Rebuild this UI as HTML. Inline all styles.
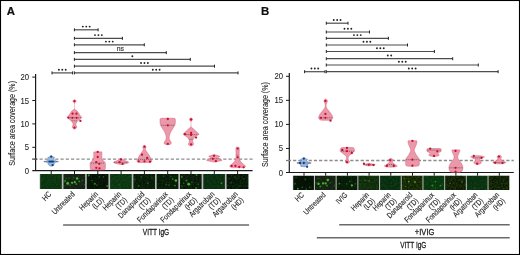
<!DOCTYPE html><html><head><meta charset="utf-8"><title>Figure</title><style>html,body{margin:0;padding:0;background:#fff;width:520px;height:255px;overflow:hidden;}svg{will-change:transform;}text{font-family:"Liberation Sans", sans-serif;}</style></head><body><svg width="520" height="255" viewBox="0 0 520 255" style='display:block;font-family:"Liberation Sans", sans-serif'><defs><filter id="bl" x="-20%" y="-20%" width="140%" height="140%"><feGaussianBlur stdDeviation="0.75"/></filter><filter id="texG" x="0" y="0" width="100%" height="100%" color-interpolation-filters="sRGB"><feTurbulence type="fractalNoise" baseFrequency="0.55" numOctaves="2" seed="4"/><feColorMatrix type="matrix" values="0 0 0 0 0.12  0 0 0 0 0.55  0 0 0 0 0.12  2.2 0 0 0 -0.75"/></filter><filter id="texY" x="0" y="0" width="100%" height="100%" color-interpolation-filters="sRGB"><feTurbulence type="fractalNoise" baseFrequency="0.6" numOctaves="2" seed="9"/><feColorMatrix type="matrix" values="0 0 0 0 0.35  0 0 0 0 0.6  0 0 0 0 0.08  2.2 0 0 0 -0.75"/></filter></defs><rect x="0" y="0" width="520" height="255" fill="#fff"/><text x="6.8" y="14.9" font-size="11.4" font-weight="bold" fill="#111" stroke="#111" stroke-width="0.2">A</text>
<line x1="35.60" y1="74.00" x2="35.60" y2="170.70" stroke="#1a1a1a" stroke-width="1.2" />
<line x1="32.30" y1="170.70" x2="252.60" y2="170.70" stroke="#1a1a1a" stroke-width="1.2" />
<line x1="32.30" y1="147.30" x2="35.60" y2="147.30" stroke="#1a1a1a" stroke-width="1.0" />
<line x1="32.30" y1="123.90" x2="35.60" y2="123.90" stroke="#1a1a1a" stroke-width="1.0" />
<line x1="32.30" y1="100.50" x2="35.60" y2="100.50" stroke="#1a1a1a" stroke-width="1.0" />
<line x1="32.30" y1="77.10" x2="35.60" y2="77.10" stroke="#1a1a1a" stroke-width="1.0" />
<text x="29.00" y="173.70" font-size="8.4" text-anchor="end" fill="#222" font-weight="normal" textLength="4.30" lengthAdjust="spacingAndGlyphs" stroke="#222" stroke-width="0.08" >0</text>
<text x="29.00" y="150.30" font-size="8.4" text-anchor="end" fill="#222" font-weight="normal" textLength="4.30" lengthAdjust="spacingAndGlyphs" stroke="#222" stroke-width="0.08" >5</text>
<text x="29.00" y="126.90" font-size="8.4" text-anchor="end" fill="#222" font-weight="normal" textLength="8.60" lengthAdjust="spacingAndGlyphs" stroke="#222" stroke-width="0.08" >10</text>
<text x="29.00" y="103.50" font-size="8.4" text-anchor="end" fill="#222" font-weight="normal" textLength="8.60" lengthAdjust="spacingAndGlyphs" stroke="#222" stroke-width="0.08" >15</text>
<text x="29.00" y="80.10" font-size="8.4" text-anchor="end" fill="#222" font-weight="normal" textLength="8.60" lengthAdjust="spacingAndGlyphs" stroke="#222" stroke-width="0.08" >20</text>
<text transform="translate(14.5,123.4) rotate(-90)" x="0" y="0" font-size="9.6" text-anchor="middle" fill="#222" stroke="#222" stroke-width="0.1" textLength="84.8" lengthAdjust="spacingAndGlyphs">Surface area coverage (%)</text>
<line x1="34.25" y1="159.10" x2="252.60" y2="159.10" stroke="#8c8c8c" stroke-width="1.3" stroke-dasharray="3.2 2.05"/>
<line x1="32.10" y1="159.10" x2="37.20" y2="159.10" stroke="#333" stroke-width="1.1" />
<text x="260.9" y="14.9" font-size="11.4" font-weight="bold" fill="#111" stroke="#111" stroke-width="0.2">B</text>
<line x1="289.30" y1="73.00" x2="289.30" y2="172.50" stroke="#1a1a1a" stroke-width="1.2" />
<line x1="286.00" y1="172.50" x2="513.80" y2="172.50" stroke="#1a1a1a" stroke-width="1.2" />
<line x1="286.00" y1="148.45" x2="289.30" y2="148.45" stroke="#1a1a1a" stroke-width="1.0" />
<line x1="286.00" y1="124.40" x2="289.30" y2="124.40" stroke="#1a1a1a" stroke-width="1.0" />
<line x1="286.00" y1="100.35" x2="289.30" y2="100.35" stroke="#1a1a1a" stroke-width="1.0" />
<line x1="286.00" y1="76.30" x2="289.30" y2="76.30" stroke="#1a1a1a" stroke-width="1.0" />
<text x="283.00" y="175.50" font-size="8.4" text-anchor="end" fill="#222" font-weight="normal" textLength="4.30" lengthAdjust="spacingAndGlyphs" stroke="#222" stroke-width="0.08" >0</text>
<text x="283.00" y="151.45" font-size="8.4" text-anchor="end" fill="#222" font-weight="normal" textLength="4.30" lengthAdjust="spacingAndGlyphs" stroke="#222" stroke-width="0.08" >5</text>
<text x="283.00" y="127.40" font-size="8.4" text-anchor="end" fill="#222" font-weight="normal" textLength="8.60" lengthAdjust="spacingAndGlyphs" stroke="#222" stroke-width="0.08" >10</text>
<text x="283.00" y="103.35" font-size="8.4" text-anchor="end" fill="#222" font-weight="normal" textLength="8.60" lengthAdjust="spacingAndGlyphs" stroke="#222" stroke-width="0.08" >15</text>
<text x="283.00" y="79.30" font-size="8.4" text-anchor="end" fill="#222" font-weight="normal" textLength="8.60" lengthAdjust="spacingAndGlyphs" stroke="#222" stroke-width="0.08" >20</text>
<text transform="translate(268.0,124.5) rotate(-90)" x="0" y="0" font-size="9.6" text-anchor="middle" fill="#222" stroke="#222" stroke-width="0.1" textLength="84.8" lengthAdjust="spacingAndGlyphs">Surface area coverage (%)</text>
<line x1="286.00" y1="160.50" x2="289.30" y2="160.50" stroke="#777" stroke-width="1.2" />
<line x1="287.85" y1="160.50" x2="513.80" y2="160.50" stroke="#8c8c8c" stroke-width="1.3" stroke-dasharray="3.2 2"/>
<line x1="74.40" y1="29.80" x2="98.10" y2="29.80" stroke="#4d4d4d" stroke-width="1.2" />
<line x1="74.40" y1="28.30" x2="74.40" y2="31.30" stroke="#222" stroke-width="1.0" />
<line x1="98.10" y1="28.30" x2="98.10" y2="31.30" stroke="#222" stroke-width="1.0" />
<circle cx="82.85" cy="26.60" r="0.95" fill="#222"/>
<circle cx="86.25" cy="26.60" r="0.95" fill="#222"/>
<circle cx="89.65" cy="26.60" r="0.95" fill="#222"/>
<line x1="74.40" y1="38.30" x2="122.40" y2="38.30" stroke="#4d4d4d" stroke-width="1.2" />
<line x1="74.40" y1="36.80" x2="74.40" y2="39.80" stroke="#222" stroke-width="1.0" />
<line x1="122.40" y1="36.80" x2="122.40" y2="39.80" stroke="#222" stroke-width="1.0" />
<circle cx="95.00" cy="35.10" r="0.95" fill="#222"/>
<circle cx="98.40" cy="35.10" r="0.95" fill="#222"/>
<circle cx="101.80" cy="35.10" r="0.95" fill="#222"/>
<line x1="74.40" y1="44.80" x2="144.30" y2="44.80" stroke="#4d4d4d" stroke-width="1.2" />
<line x1="74.40" y1="43.30" x2="74.40" y2="46.30" stroke="#222" stroke-width="1.0" />
<line x1="144.30" y1="43.30" x2="144.30" y2="46.30" stroke="#222" stroke-width="1.0" />
<circle cx="105.95" cy="41.60" r="0.95" fill="#222"/>
<circle cx="109.35" cy="41.60" r="0.95" fill="#222"/>
<circle cx="112.75" cy="41.60" r="0.95" fill="#222"/>
<line x1="74.40" y1="52.60" x2="166.30" y2="52.60" stroke="#4d4d4d" stroke-width="1.2" />
<line x1="74.40" y1="51.10" x2="74.40" y2="54.10" stroke="#222" stroke-width="1.0" />
<line x1="166.30" y1="51.10" x2="166.30" y2="54.10" stroke="#222" stroke-width="1.0" />
<text x="120.35" y="50.80" font-size="7.7" text-anchor="middle" fill="#333" font-weight="normal" textLength="7.20" lengthAdjust="spacingAndGlyphs" stroke="#333" stroke-width="0.18" >ns</text>
<line x1="74.40" y1="59.40" x2="190.30" y2="59.40" stroke="#4d4d4d" stroke-width="1.2" />
<line x1="74.40" y1="57.90" x2="74.40" y2="60.90" stroke="#222" stroke-width="1.0" />
<line x1="190.30" y1="57.90" x2="190.30" y2="60.90" stroke="#222" stroke-width="1.0" />
<circle cx="132.35" cy="56.20" r="0.95" fill="#222"/>
<line x1="74.40" y1="66.20" x2="214.50" y2="66.20" stroke="#4d4d4d" stroke-width="1.2" />
<line x1="74.40" y1="64.70" x2="74.40" y2="67.70" stroke="#222" stroke-width="1.0" />
<line x1="214.50" y1="64.70" x2="214.50" y2="67.70" stroke="#222" stroke-width="1.0" />
<circle cx="141.05" cy="63.00" r="0.95" fill="#222"/>
<circle cx="144.45" cy="63.00" r="0.95" fill="#222"/>
<circle cx="147.85" cy="63.00" r="0.95" fill="#222"/>
<line x1="74.40" y1="72.90" x2="238.00" y2="72.90" stroke="#4d4d4d" stroke-width="1.2" />
<line x1="74.40" y1="71.40" x2="74.40" y2="74.40" stroke="#222" stroke-width="1.0" />
<line x1="238.00" y1="71.40" x2="238.00" y2="74.40" stroke="#222" stroke-width="1.0" />
<circle cx="152.80" cy="69.70" r="0.95" fill="#222"/>
<circle cx="156.20" cy="69.70" r="0.95" fill="#222"/>
<circle cx="159.60" cy="69.70" r="0.95" fill="#222"/>
<line x1="52.00" y1="72.90" x2="72.60" y2="72.90" stroke="#4d4d4d" stroke-width="1.2" />
<line x1="52.00" y1="71.40" x2="52.00" y2="74.40" stroke="#222" stroke-width="1.0" />
<line x1="72.60" y1="71.40" x2="72.60" y2="74.40" stroke="#222" stroke-width="1.0" />
<circle cx="58.90" cy="69.70" r="0.95" fill="#222"/>
<circle cx="62.30" cy="69.70" r="0.95" fill="#222"/>
<circle cx="65.70" cy="69.70" r="0.95" fill="#222"/>
<line x1="326.30" y1="23.20" x2="348.00" y2="23.20" stroke="#4d4d4d" stroke-width="1.2" />
<line x1="326.30" y1="21.70" x2="326.30" y2="24.70" stroke="#222" stroke-width="1.0" />
<line x1="348.00" y1="21.70" x2="348.00" y2="24.70" stroke="#222" stroke-width="1.0" />
<circle cx="333.75" cy="20.00" r="0.95" fill="#222"/>
<circle cx="337.15" cy="20.00" r="0.95" fill="#222"/>
<circle cx="340.55" cy="20.00" r="0.95" fill="#222"/>
<line x1="326.30" y1="32.00" x2="369.50" y2="32.00" stroke="#4d4d4d" stroke-width="1.2" />
<line x1="326.30" y1="30.50" x2="326.30" y2="33.50" stroke="#222" stroke-width="1.0" />
<line x1="369.50" y1="30.50" x2="369.50" y2="33.50" stroke="#222" stroke-width="1.0" />
<circle cx="344.50" cy="28.80" r="0.95" fill="#222"/>
<circle cx="347.90" cy="28.80" r="0.95" fill="#222"/>
<circle cx="351.30" cy="28.80" r="0.95" fill="#222"/>
<line x1="326.30" y1="38.30" x2="388.40" y2="38.30" stroke="#4d4d4d" stroke-width="1.2" />
<line x1="326.30" y1="36.80" x2="326.30" y2="39.80" stroke="#222" stroke-width="1.0" />
<line x1="388.40" y1="36.80" x2="388.40" y2="39.80" stroke="#222" stroke-width="1.0" />
<circle cx="353.95" cy="35.10" r="0.95" fill="#222"/>
<circle cx="357.35" cy="35.10" r="0.95" fill="#222"/>
<circle cx="360.75" cy="35.10" r="0.95" fill="#222"/>
<line x1="326.30" y1="45.00" x2="407.50" y2="45.00" stroke="#4d4d4d" stroke-width="1.2" />
<line x1="326.30" y1="43.50" x2="326.30" y2="46.50" stroke="#222" stroke-width="1.0" />
<line x1="407.50" y1="43.50" x2="407.50" y2="46.50" stroke="#222" stroke-width="1.0" />
<circle cx="363.50" cy="41.80" r="0.95" fill="#222"/>
<circle cx="366.90" cy="41.80" r="0.95" fill="#222"/>
<circle cx="370.30" cy="41.80" r="0.95" fill="#222"/>
<line x1="326.30" y1="51.50" x2="434.40" y2="51.50" stroke="#4d4d4d" stroke-width="1.2" />
<line x1="326.30" y1="50.00" x2="326.30" y2="53.00" stroke="#222" stroke-width="1.0" />
<line x1="434.40" y1="50.00" x2="434.40" y2="53.00" stroke="#222" stroke-width="1.0" />
<circle cx="376.95" cy="48.30" r="0.95" fill="#222"/>
<circle cx="380.35" cy="48.30" r="0.95" fill="#222"/>
<circle cx="383.75" cy="48.30" r="0.95" fill="#222"/>
<line x1="326.30" y1="58.70" x2="452.70" y2="58.70" stroke="#4d4d4d" stroke-width="1.2" />
<line x1="326.30" y1="57.20" x2="326.30" y2="60.20" stroke="#222" stroke-width="1.0" />
<line x1="452.70" y1="57.20" x2="452.70" y2="60.20" stroke="#222" stroke-width="1.0" />
<circle cx="387.80" cy="55.50" r="0.95" fill="#222"/>
<circle cx="391.20" cy="55.50" r="0.95" fill="#222"/>
<line x1="326.30" y1="65.00" x2="478.30" y2="65.00" stroke="#4d4d4d" stroke-width="1.2" />
<line x1="326.30" y1="63.50" x2="326.30" y2="66.50" stroke="#222" stroke-width="1.0" />
<line x1="478.30" y1="63.50" x2="478.30" y2="66.50" stroke="#222" stroke-width="1.0" />
<circle cx="398.90" cy="61.80" r="0.95" fill="#222"/>
<circle cx="402.30" cy="61.80" r="0.95" fill="#222"/>
<circle cx="405.70" cy="61.80" r="0.95" fill="#222"/>
<line x1="326.30" y1="71.70" x2="498.10" y2="71.70" stroke="#4d4d4d" stroke-width="1.2" />
<line x1="326.30" y1="70.20" x2="326.30" y2="73.20" stroke="#222" stroke-width="1.0" />
<line x1="498.10" y1="70.20" x2="498.10" y2="73.20" stroke="#222" stroke-width="1.0" />
<circle cx="408.80" cy="68.50" r="0.95" fill="#222"/>
<circle cx="412.20" cy="68.50" r="0.95" fill="#222"/>
<circle cx="415.60" cy="68.50" r="0.95" fill="#222"/>
<line x1="304.60" y1="71.70" x2="325.00" y2="71.70" stroke="#4d4d4d" stroke-width="1.2" />
<line x1="304.60" y1="70.20" x2="304.60" y2="73.20" stroke="#222" stroke-width="1.0" />
<line x1="325.00" y1="70.20" x2="325.00" y2="73.20" stroke="#222" stroke-width="1.0" />
<circle cx="311.40" cy="68.50" r="0.95" fill="#222"/>
<circle cx="314.80" cy="68.50" r="0.95" fill="#222"/>
<circle cx="318.20" cy="68.50" r="0.95" fill="#222"/>
<path d="M51.20,155.80 C51.37,155.90 51.80,156.18 52.20,156.40 C52.60,156.62 53.18,156.88 53.60,157.10 C54.02,157.32 54.67,157.48 54.70,157.70 C54.73,157.92 53.92,158.12 53.80,158.40 C53.68,158.68 53.80,159.07 54.00,159.40 C54.20,159.73 54.57,160.12 55.00,160.40 C55.43,160.68 56.00,160.90 56.60,161.10 C57.20,161.30 58.60,161.43 58.60,161.60 C58.60,161.77 57.23,161.90 56.60,162.10 C55.97,162.30 55.20,162.48 54.80,162.80 C54.40,163.12 54.37,163.63 54.20,164.00 C54.03,164.37 54.07,164.70 53.80,165.00 C53.53,165.30 53.03,165.58 52.60,165.80 C52.17,166.02 51.67,166.30 51.20,166.30 C50.73,166.30 50.23,166.02 49.80,165.80 C49.37,165.58 48.87,165.30 48.60,165.00 C48.33,164.70 48.37,164.37 48.20,164.00 C48.03,163.63 48.00,163.12 47.60,162.80 C47.20,162.48 46.43,162.30 45.80,162.10 C45.17,161.90 43.80,161.77 43.80,161.60 C43.80,161.43 45.20,161.30 45.80,161.10 C46.40,160.90 46.97,160.68 47.40,160.40 C47.83,160.12 48.20,159.73 48.40,159.40 C48.60,159.07 48.72,158.68 48.60,158.40 C48.48,158.12 47.67,157.92 47.70,157.70 C47.73,157.48 48.38,157.32 48.80,157.10 C49.22,156.88 49.80,156.62 50.20,156.40 C50.60,156.18 51.03,155.90 51.20,155.80 C51.37,155.70 51.03,155.70 51.20,155.80Z" fill="#9ab8de" stroke="#3f6fae" stroke-width="0.45"/>
<line x1="44.30" y1="161.60" x2="58.10" y2="161.60" stroke="#555" stroke-width="0.7" stroke-dasharray="1.2 0.8"/>
<circle cx="51.20" cy="156.70" r="1.15" fill="#0c3f86"/>
<circle cx="49.50" cy="161.60" r="1.15" fill="#0c3f86"/>
<circle cx="51.20" cy="161.60" r="1.15" fill="#0c3f86"/>
<circle cx="52.90" cy="161.60" r="1.15" fill="#0c3f86"/>
<circle cx="52.60" cy="165.10" r="1.15" fill="#0c3f86"/>
<line x1="74.50" y1="102.50" x2="74.50" y2="110.00" stroke="#eb98aa" stroke-width="0.6" />
<path d="M74.50,99.70 C74.70,99.82 75.43,100.15 75.70,100.40 C75.97,100.65 76.13,100.90 76.10,101.20 C76.07,101.50 75.77,101.87 75.50,102.20 C75.23,102.53 74.83,103.20 74.50,103.20 C74.17,103.20 73.77,102.53 73.50,102.20 C73.23,101.87 72.93,101.50 72.90,101.20 C72.87,100.90 73.03,100.65 73.30,100.40 C73.57,100.15 74.30,99.82 74.50,99.70 C74.70,99.58 74.30,99.58 74.50,99.70Z" fill="#eb98aa" stroke="#d9506e" stroke-width="0.45"/>
<path d="M74.50,109.40 C74.80,109.53 75.73,109.77 76.30,110.20 C76.87,110.63 77.43,111.40 77.90,112.00 C78.37,112.60 78.70,113.18 79.10,113.80 C79.50,114.42 79.85,115.08 80.30,115.70 C80.75,116.32 81.83,116.95 81.80,117.50 C81.77,118.05 80.72,118.48 80.10,119.00 C79.48,119.52 78.67,120.07 78.10,120.60 C77.53,121.13 77.08,121.63 76.70,122.20 C76.32,122.77 75.88,123.43 75.80,124.00 C75.72,124.57 76.05,125.07 76.20,125.60 C76.35,126.13 76.75,126.73 76.70,127.20 C76.65,127.67 76.27,128.07 75.90,128.40 C75.53,128.73 74.97,129.20 74.50,129.20 C74.03,129.20 73.47,128.73 73.10,128.40 C72.73,128.07 72.35,127.67 72.30,127.20 C72.25,126.73 72.65,126.13 72.80,125.60 C72.95,125.07 73.28,124.57 73.20,124.00 C73.12,123.43 72.68,122.77 72.30,122.20 C71.92,121.63 71.47,121.13 70.90,120.60 C70.33,120.07 69.52,119.52 68.90,119.00 C68.28,118.48 67.23,118.05 67.20,117.50 C67.17,116.95 68.25,116.32 68.70,115.70 C69.15,115.08 69.50,114.42 69.90,113.80 C70.30,113.18 70.63,112.60 71.10,112.00 C71.57,111.40 72.13,110.63 72.70,110.20 C73.27,109.77 74.20,109.53 74.50,109.40 C74.80,109.27 74.20,109.27 74.50,109.40Z" fill="#eb98aa" stroke="#d9506e" stroke-width="0.45"/>
<line x1="68.04" y1="117.80" x2="80.96" y2="117.80" stroke="#555" stroke-width="0.7" stroke-dasharray="1.2 0.8"/>
<line x1="71.58" y1="120.80" x2="77.42" y2="120.80" stroke="#555" stroke-width="0.7" stroke-dasharray="1.2 0.8"/>
<circle cx="74.50" cy="101.10" r="1.15" fill="#c8102e"/>
<circle cx="72.60" cy="113.70" r="1.15" fill="#c8102e"/>
<circle cx="76.50" cy="113.70" r="1.15" fill="#c8102e"/>
<circle cx="68.40" cy="117.60" r="1.15" fill="#c8102e"/>
<circle cx="72.40" cy="117.80" r="1.15" fill="#c8102e"/>
<circle cx="76.60" cy="117.80" r="1.15" fill="#c8102e"/>
<circle cx="80.40" cy="120.90" r="1.15" fill="#c8102e"/>
<circle cx="74.50" cy="127.60" r="1.15" fill="#c8102e"/>
<path d="M100.80,151.90 C101.97,151.95 101.63,151.68 101.80,152.20 C101.97,152.72 101.77,153.90 101.80,155.00 C101.83,156.10 101.75,157.87 102.00,158.80 C102.25,159.73 102.87,160.07 103.30,160.60 C103.73,161.13 104.25,161.57 104.60,162.00 C104.95,162.43 105.27,162.37 105.40,163.20 C105.53,164.03 105.45,166.00 105.40,167.00 C105.35,168.00 105.45,168.72 105.10,169.20 C104.75,169.68 105.43,169.78 103.30,169.90 C101.17,170.02 94.43,170.02 92.30,169.90 C90.17,169.78 90.85,169.68 90.50,169.20 C90.15,168.72 90.25,168.00 90.20,167.00 C90.15,166.00 90.07,164.03 90.20,163.20 C90.33,162.37 90.65,162.43 91.00,162.00 C91.35,161.57 91.87,161.13 92.30,160.60 C92.73,160.07 93.35,159.73 93.60,158.80 C93.85,157.87 93.77,156.10 93.80,155.00 C93.83,153.90 93.63,152.72 93.80,152.20 C93.97,151.68 93.63,151.95 94.80,151.90 C95.97,151.85 99.63,151.85 100.80,151.90Z" fill="#eb98aa" stroke="#d9506e" stroke-width="0.45"/>
<line x1="90.77" y1="163.10" x2="104.83" y2="163.10" stroke="#555" stroke-width="0.7" stroke-dasharray="1.2 0.8"/>
<circle cx="97.70" cy="152.00" r="1.15" fill="#c8102e"/>
<circle cx="97.70" cy="157.00" r="1.15" fill="#c8102e"/>
<circle cx="96.30" cy="162.20" r="1.15" fill="#c8102e"/>
<circle cx="99.30" cy="163.80" r="1.15" fill="#c8102e"/>
<circle cx="96.30" cy="167.80" r="1.15" fill="#c8102e"/>
<circle cx="99.50" cy="168.30" r="1.15" fill="#c8102e"/>
<path d="M121.10,158.60 C121.35,158.72 122.10,159.02 122.60,159.30 C123.10,159.58 123.43,159.98 124.10,160.30 C124.77,160.62 125.90,160.95 126.60,161.20 C127.30,161.45 127.98,161.55 128.30,161.80 C128.62,162.05 128.78,162.43 128.50,162.70 C128.22,162.97 127.42,163.17 126.60,163.40 C125.78,163.63 124.52,163.92 123.60,164.10 C122.68,164.28 121.93,164.50 121.10,164.50 C120.27,164.50 119.52,164.28 118.60,164.10 C117.68,163.92 116.42,163.63 115.60,163.40 C114.78,163.17 113.98,162.97 113.70,162.70 C113.42,162.43 113.58,162.05 113.90,161.80 C114.22,161.55 114.90,161.45 115.60,161.20 C116.30,160.95 117.43,160.62 118.10,160.30 C118.77,159.98 119.10,159.58 119.60,159.30 C120.10,159.02 120.85,158.72 121.10,158.60 C121.35,158.48 120.85,158.48 121.10,158.60Z" fill="#eb98aa" stroke="#d9506e" stroke-width="0.45"/>
<line x1="114.27" y1="162.40" x2="127.93" y2="162.40" stroke="#555" stroke-width="0.7" stroke-dasharray="1.2 0.8"/>
<circle cx="121.00" cy="159.50" r="1.15" fill="#c8102e"/>
<circle cx="119.60" cy="162.20" r="1.15" fill="#c8102e"/>
<circle cx="122.60" cy="163.90" r="1.15" fill="#c8102e"/>
<path d="M144.40,145.50 C144.63,145.62 145.53,145.88 145.80,146.20 C146.07,146.52 146.07,146.97 146.00,147.40 C145.93,147.83 145.45,148.33 145.40,148.80 C145.35,149.27 145.43,149.63 145.70,150.20 C145.97,150.77 146.55,151.53 147.00,152.20 C147.45,152.87 147.93,153.48 148.40,154.20 C148.87,154.92 149.32,155.63 149.80,156.50 C150.28,157.37 150.98,158.55 151.30,159.40 C151.62,160.25 152.02,161.10 151.70,161.60 C151.38,162.10 151.45,162.27 149.40,162.40 C147.35,162.53 141.45,162.53 139.40,162.40 C137.35,162.27 137.42,162.10 137.10,161.60 C136.78,161.10 137.18,160.25 137.50,159.40 C137.82,158.55 138.52,157.37 139.00,156.50 C139.48,155.63 139.93,154.92 140.40,154.20 C140.87,153.48 141.35,152.87 141.80,152.20 C142.25,151.53 142.83,150.77 143.10,150.20 C143.37,149.63 143.45,149.27 143.40,148.80 C143.35,148.33 142.87,147.83 142.80,147.40 C142.73,146.97 142.73,146.52 143.00,146.20 C143.27,145.88 144.17,145.62 144.40,145.50 C144.63,145.38 144.17,145.38 144.40,145.50Z" fill="#eb98aa" stroke="#d9506e" stroke-width="0.45"/>
<line x1="138.00" y1="159.40" x2="150.80" y2="159.40" stroke="#555" stroke-width="0.7" stroke-dasharray="1.2 0.8"/>
<circle cx="144.50" cy="146.70" r="1.15" fill="#c8102e"/>
<circle cx="142.00" cy="154.70" r="1.15" fill="#c8102e"/>
<circle cx="147.20" cy="158.00" r="1.15" fill="#c8102e"/>
<circle cx="138.70" cy="161.30" r="1.15" fill="#c8102e"/>
<circle cx="144.50" cy="161.30" r="1.15" fill="#c8102e"/>
<circle cx="150.00" cy="161.70" r="1.15" fill="#c8102e"/>
<path d="M173.20,118.30 C175.35,118.38 174.73,118.43 175.10,118.80 C175.47,119.17 175.37,119.80 175.40,120.50 C175.43,121.20 175.38,122.25 175.30,123.00 C175.22,123.75 175.20,124.25 174.90,125.00 C174.60,125.75 174.00,126.67 173.50,127.50 C173.00,128.33 172.40,129.17 171.90,130.00 C171.40,130.83 170.88,131.67 170.50,132.50 C170.12,133.33 169.82,134.17 169.60,135.00 C169.38,135.83 169.22,136.75 169.20,137.50 C169.18,138.25 169.25,138.83 169.50,139.50 C169.75,140.17 170.40,140.92 170.70,141.50 C171.00,142.08 171.33,142.55 171.30,143.00 C171.27,143.45 171.10,143.92 170.50,144.20 C169.90,144.48 168.63,144.70 167.70,144.70 C166.77,144.70 165.50,144.48 164.90,144.20 C164.30,143.92 164.13,143.45 164.10,143.00 C164.07,142.55 164.40,142.08 164.70,141.50 C165.00,140.92 165.65,140.17 165.90,139.50 C166.15,138.83 166.22,138.25 166.20,137.50 C166.18,136.75 166.02,135.83 165.80,135.00 C165.58,134.17 165.28,133.33 164.90,132.50 C164.52,131.67 164.00,130.83 163.50,130.00 C163.00,129.17 162.40,128.33 161.90,127.50 C161.40,126.67 160.80,125.75 160.50,125.00 C160.20,124.25 160.18,123.75 160.10,123.00 C160.02,122.25 159.97,121.20 160.00,120.50 C160.03,119.80 159.93,119.17 160.30,118.80 C160.67,118.43 160.05,118.38 162.20,118.30 C164.35,118.22 171.05,118.22 173.20,118.30Z" fill="#eb98aa" stroke="#d9506e" stroke-width="0.45"/>
<line x1="161.17" y1="125.30" x2="174.23" y2="125.30" stroke="#555" stroke-width="0.7" stroke-dasharray="1.2 0.8"/>
<circle cx="167.80" cy="119.00" r="1.15" fill="#c8102e"/>
<circle cx="167.80" cy="125.30" r="1.15" fill="#c8102e"/>
<circle cx="167.80" cy="143.90" r="1.15" fill="#c8102e"/>
<line x1="191.00" y1="121.00" x2="191.00" y2="127.50" stroke="#eb98aa" stroke-width="0.6" />
<path d="M191.00,117.90 C191.20,118.02 191.93,118.33 192.20,118.60 C192.47,118.87 192.63,119.18 192.60,119.50 C192.57,119.82 192.27,120.17 192.00,120.50 C191.73,120.83 191.33,121.50 191.00,121.50 C190.67,121.50 190.27,120.83 190.00,120.50 C189.73,120.17 189.43,119.82 189.40,119.50 C189.37,119.18 189.53,118.87 189.80,118.60 C190.07,118.33 190.80,118.02 191.00,117.90 C191.20,117.78 190.80,117.78 191.00,117.90Z" fill="#eb98aa" stroke="#d9506e" stroke-width="0.45"/>
<path d="M191.00,127.00 C191.27,127.17 192.02,127.50 192.60,128.00 C193.18,128.50 193.77,129.30 194.50,130.00 C195.23,130.70 196.27,131.50 197.00,132.20 C197.73,132.90 198.90,133.63 198.90,134.20 C198.90,134.77 197.72,135.05 197.00,135.60 C196.28,136.15 195.23,136.88 194.60,137.50 C193.97,138.12 193.53,138.72 193.20,139.30 C192.87,139.88 192.63,140.45 192.60,141.00 C192.57,141.55 192.83,142.13 193.00,142.60 C193.17,143.07 193.57,143.40 193.60,143.80 C193.63,144.20 193.63,144.63 193.20,145.00 C192.77,145.37 191.73,146.00 191.00,146.00 C190.27,146.00 189.23,145.37 188.80,145.00 C188.37,144.63 188.37,144.20 188.40,143.80 C188.43,143.40 188.83,143.07 189.00,142.60 C189.17,142.13 189.43,141.55 189.40,141.00 C189.37,140.45 189.13,139.88 188.80,139.30 C188.47,138.72 188.03,138.12 187.40,137.50 C186.77,136.88 185.72,136.15 185.00,135.60 C184.28,135.05 183.10,134.77 183.10,134.20 C183.10,133.63 184.27,132.90 185.00,132.20 C185.73,131.50 186.77,130.70 187.50,130.00 C188.23,129.30 188.82,128.50 189.40,128.00 C189.98,127.50 190.73,127.17 191.00,127.00 C191.27,126.83 190.73,126.83 191.00,127.00Z" fill="#eb98aa" stroke="#d9506e" stroke-width="0.45"/>
<line x1="184.14" y1="134.60" x2="197.86" y2="134.60" stroke="#555" stroke-width="0.7" stroke-dasharray="1.2 0.8"/>
<line x1="189.30" y1="139.30" x2="192.70" y2="139.30" stroke="#555" stroke-width="0.7" stroke-dasharray="1.2 0.8"/>
<circle cx="191.10" cy="119.50" r="1.15" fill="#c8102e"/>
<circle cx="185.00" cy="134.20" r="1.15" fill="#c8102e"/>
<circle cx="191.10" cy="133.00" r="1.15" fill="#c8102e"/>
<circle cx="191.10" cy="134.90" r="1.15" fill="#c8102e"/>
<circle cx="196.10" cy="137.60" r="1.15" fill="#c8102e"/>
<circle cx="191.10" cy="144.30" r="1.15" fill="#c8102e"/>
<path d="M214.30,154.60 C214.72,154.72 215.88,155.02 216.80,155.30 C217.72,155.58 219.52,155.97 219.80,156.30 C220.08,156.63 218.82,156.97 218.50,157.30 C218.18,157.63 217.63,157.97 217.90,158.30 C218.17,158.63 219.42,158.98 220.10,159.30 C220.78,159.62 222.10,159.90 222.00,160.20 C221.90,160.50 220.78,160.80 219.50,161.10 C218.22,161.40 216.03,162.00 214.30,162.00 C212.57,162.00 210.38,161.40 209.10,161.10 C207.82,160.80 206.70,160.50 206.60,160.20 C206.50,159.90 207.82,159.62 208.50,159.30 C209.18,158.98 210.43,158.63 210.70,158.30 C210.97,157.97 210.42,157.63 210.10,157.30 C209.78,156.97 208.52,156.63 208.80,156.30 C209.08,155.97 210.88,155.58 211.80,155.30 C212.72,155.02 213.88,154.72 214.30,154.60 C214.72,154.48 213.88,154.48 214.30,154.60Z" fill="#eb98aa" stroke="#d9506e" stroke-width="0.45"/>
<line x1="210.10" y1="158.80" x2="218.50" y2="158.80" stroke="#555" stroke-width="0.7" stroke-dasharray="1.2 0.8"/>
<circle cx="214.00" cy="155.80" r="1.15" fill="#c8102e"/>
<circle cx="212.80" cy="158.80" r="1.15" fill="#c8102e"/>
<circle cx="215.90" cy="161.20" r="1.15" fill="#c8102e"/>
<path d="M238.60,147.30 C239.03,147.38 239.08,147.35 239.20,147.80 C239.32,148.25 239.30,149.13 239.30,150.00 C239.30,150.87 239.22,152.00 239.20,153.00 C239.18,154.00 239.15,155.03 239.20,156.00 C239.25,156.97 239.33,158.00 239.50,158.80 C239.67,159.60 239.82,160.13 240.20,160.80 C240.58,161.47 241.23,162.20 241.80,162.80 C242.37,163.40 242.98,163.88 243.60,164.40 C244.22,164.92 245.33,165.45 245.50,165.90 C245.67,166.35 245.08,166.82 244.60,167.10 C244.12,167.38 244.60,167.52 242.60,167.60 C240.60,167.68 234.60,167.68 232.60,167.60 C230.60,167.52 231.08,167.38 230.60,167.10 C230.12,166.82 229.53,166.35 229.70,165.90 C229.87,165.45 230.98,164.92 231.60,164.40 C232.22,163.88 232.83,163.40 233.40,162.80 C233.97,162.20 234.62,161.47 235.00,160.80 C235.38,160.13 235.53,159.60 235.70,158.80 C235.87,158.00 235.95,156.97 236.00,156.00 C236.05,155.03 236.02,154.00 236.00,153.00 C235.98,152.00 235.90,150.87 235.90,150.00 C235.90,149.13 235.88,148.25 236.00,147.80 C236.12,147.35 236.17,147.38 236.60,147.30 C237.03,147.22 238.17,147.22 238.60,147.30Z" fill="#eb98aa" stroke="#d9506e" stroke-width="0.45"/>
<line x1="236.50" y1="155.20" x2="238.70" y2="155.20" stroke="#555" stroke-width="0.7" stroke-dasharray="1.2 0.8"/>
<circle cx="237.70" cy="148.60" r="1.15" fill="#c8102e"/>
<circle cx="237.70" cy="157.30" r="1.15" fill="#c8102e"/>
<circle cx="231.60" cy="165.90" r="1.15" fill="#c8102e"/>
<circle cx="235.40" cy="165.90" r="1.15" fill="#c8102e"/>
<circle cx="239.30" cy="167.00" r="1.15" fill="#c8102e"/>
<circle cx="243.60" cy="167.30" r="1.15" fill="#c8102e"/>
<path d="M304.00,157.60 C304.17,157.70 304.57,157.98 305.00,158.20 C305.43,158.42 306.17,158.68 306.60,158.90 C307.03,159.12 307.60,159.28 307.60,159.50 C307.60,159.72 306.73,159.95 306.60,160.20 C306.47,160.45 306.53,160.70 306.80,161.00 C307.07,161.30 307.70,161.73 308.20,162.00 C308.70,162.27 309.30,162.43 309.80,162.60 C310.30,162.77 311.20,162.87 311.20,163.00 C311.20,163.13 310.37,163.23 309.80,163.40 C309.23,163.57 308.20,163.70 307.80,164.00 C307.40,164.30 307.47,164.85 307.40,165.20 C307.33,165.55 307.72,165.88 307.40,166.10 C307.08,166.32 306.07,166.38 305.50,166.50 C304.93,166.62 304.50,166.80 304.00,166.80 C303.50,166.80 303.07,166.62 302.50,166.50 C301.93,166.38 300.92,166.32 300.60,166.10 C300.28,165.88 300.67,165.55 300.60,165.20 C300.53,164.85 300.60,164.30 300.20,164.00 C299.80,163.70 298.77,163.57 298.20,163.40 C297.63,163.23 296.80,163.13 296.80,163.00 C296.80,162.87 297.70,162.77 298.20,162.60 C298.70,162.43 299.30,162.27 299.80,162.00 C300.30,161.73 300.93,161.30 301.20,161.00 C301.47,160.70 301.53,160.45 301.40,160.20 C301.27,159.95 300.40,159.72 300.40,159.50 C300.40,159.28 300.97,159.12 301.40,158.90 C301.83,158.68 302.57,158.42 303.00,158.20 C303.43,157.98 303.83,157.70 304.00,157.60 C304.17,157.50 303.83,157.50 304.00,157.60Z" fill="#9ab8de" stroke="#3f6fae" stroke-width="0.45"/>
<line x1="297.30" y1="163.00" x2="310.70" y2="163.00" stroke="#555" stroke-width="0.7" stroke-dasharray="1.2 0.8"/>
<circle cx="303.80" cy="158.70" r="1.15" fill="#0c3f86"/>
<circle cx="300.00" cy="163.00" r="1.15" fill="#0c3f86"/>
<circle cx="303.80" cy="163.00" r="1.15" fill="#0c3f86"/>
<circle cx="307.10" cy="166.80" r="1.15" fill="#0c3f86"/>
<path d="M325.70,99.00 C325.92,99.15 326.72,99.57 327.00,99.90 C327.28,100.23 327.40,100.58 327.40,101.00 C327.40,101.42 327.20,101.87 327.00,102.40 C326.80,102.93 326.32,103.40 326.20,104.20 C326.08,105.00 326.08,106.37 326.30,107.20 C326.52,108.03 327.02,108.52 327.50,109.20 C327.98,109.88 328.63,110.60 329.20,111.30 C329.77,112.00 330.40,112.72 330.90,113.40 C331.40,114.08 331.90,114.67 332.20,115.40 C332.50,116.13 332.72,117.15 332.70,117.80 C332.68,118.45 332.60,118.90 332.10,119.30 C331.60,119.70 331.43,120.05 329.70,120.20 C327.97,120.35 323.43,120.35 321.70,120.20 C319.97,120.05 319.80,119.70 319.30,119.30 C318.80,118.90 318.72,118.45 318.70,117.80 C318.68,117.15 318.90,116.13 319.20,115.40 C319.50,114.67 320.00,114.08 320.50,113.40 C321.00,112.72 321.63,112.00 322.20,111.30 C322.77,110.60 323.42,109.88 323.90,109.20 C324.38,108.52 324.88,108.03 325.10,107.20 C325.32,106.37 325.32,105.00 325.20,104.20 C325.08,103.40 324.60,102.93 324.40,102.40 C324.20,101.87 324.00,101.42 324.00,101.00 C324.00,100.58 324.12,100.23 324.40,99.90 C324.68,99.57 325.48,99.15 325.70,99.00 C325.92,98.85 325.48,98.85 325.70,99.00Z" fill="#eb98aa" stroke="#d9506e" stroke-width="0.45"/>
<line x1="319.20" y1="117.80" x2="332.20" y2="117.80" stroke="#555" stroke-width="0.7" stroke-dasharray="1.2 0.8"/>
<circle cx="325.40" cy="101.00" r="1.15" fill="#c8102e"/>
<circle cx="325.40" cy="113.90" r="1.15" fill="#c8102e"/>
<circle cx="321.00" cy="117.80" r="1.15" fill="#c8102e"/>
<circle cx="325.40" cy="117.80" r="1.15" fill="#c8102e"/>
<circle cx="330.50" cy="120.70" r="1.15" fill="#c8102e"/>
<path d="M351.90,147.60 C353.73,147.70 353.48,147.90 353.90,148.20 C354.32,148.50 354.32,148.90 354.40,149.40 C354.48,149.90 354.67,150.63 354.40,151.20 C354.13,151.77 353.38,152.28 352.80,152.80 C352.22,153.32 351.47,153.83 350.90,154.30 C350.33,154.77 349.82,155.18 349.40,155.60 C348.98,156.02 348.60,156.15 348.40,156.80 C348.20,157.45 348.10,158.80 348.20,159.50 C348.30,160.20 348.80,160.55 349.00,161.00 C349.20,161.45 349.67,161.82 349.40,162.20 C349.13,162.58 348.07,163.30 347.40,163.30 C346.73,163.30 345.67,162.58 345.40,162.20 C345.13,161.82 345.60,161.45 345.80,161.00 C346.00,160.55 346.50,160.20 346.60,159.50 C346.70,158.80 346.60,157.45 346.40,156.80 C346.20,156.15 345.82,156.02 345.40,155.60 C344.98,155.18 344.47,154.77 343.90,154.30 C343.33,153.83 342.58,153.32 342.00,152.80 C341.42,152.28 340.67,151.77 340.40,151.20 C340.13,150.63 340.32,149.90 340.40,149.40 C340.48,148.90 340.48,148.50 340.90,148.20 C341.32,147.90 341.07,147.70 342.90,147.60 C344.73,147.50 350.07,147.50 351.90,147.60Z" fill="#eb98aa" stroke="#d9506e" stroke-width="0.45"/>
<line x1="340.90" y1="151.20" x2="353.90" y2="151.20" stroke="#555" stroke-width="0.7" stroke-dasharray="1.2 0.8"/>
<circle cx="347.00" cy="148.00" r="1.15" fill="#c8102e"/>
<circle cx="342.30" cy="150.00" r="1.15" fill="#c8102e"/>
<circle cx="347.00" cy="151.20" r="1.15" fill="#c8102e"/>
<circle cx="351.80" cy="153.00" r="1.15" fill="#c8102e"/>
<circle cx="347.00" cy="162.20" r="1.15" fill="#c8102e"/>
<path d="M369.10,163.30 C369.60,163.40 371.13,163.72 372.10,163.90 C373.07,164.08 374.43,164.23 374.90,164.40 C375.37,164.57 375.37,164.73 374.90,164.90 C374.43,165.07 373.07,165.23 372.10,165.40 C371.13,165.57 370.10,165.90 369.10,165.90 C368.10,165.90 367.07,165.57 366.10,165.40 C365.13,165.23 363.77,165.07 363.30,164.90 C362.83,164.73 362.83,164.57 363.30,164.40 C363.77,164.23 365.13,164.08 366.10,163.90 C367.07,163.72 368.60,163.40 369.10,163.30 C369.60,163.20 368.60,163.20 369.10,163.30Z" fill="#eb98aa" stroke="#d9506e" stroke-width="0.45"/>
<line x1="363.80" y1="164.60" x2="374.40" y2="164.60" stroke="#555" stroke-width="0.7" stroke-dasharray="1.2 0.8"/>
<circle cx="363.90" cy="163.60" r="1.15" fill="#c8102e"/>
<circle cx="368.80" cy="164.80" r="1.15" fill="#c8102e"/>
<circle cx="373.50" cy="165.10" r="1.15" fill="#c8102e"/>
<path d="M390.80,158.30 C391.10,158.45 392.23,158.87 392.60,159.20 C392.97,159.53 393.03,159.93 393.00,160.30 C392.97,160.67 392.50,161.05 392.40,161.40 C392.30,161.75 392.17,162.03 392.40,162.40 C392.63,162.77 393.23,163.17 393.80,163.60 C394.37,164.03 395.22,164.60 395.80,165.00 C396.38,165.40 397.38,165.70 397.30,166.00 C397.22,166.30 396.38,166.60 395.30,166.80 C394.22,167.00 392.30,167.20 390.80,167.20 C389.30,167.20 387.38,167.00 386.30,166.80 C385.22,166.60 384.38,166.30 384.30,166.00 C384.22,165.70 385.22,165.40 385.80,165.00 C386.38,164.60 387.23,164.03 387.80,163.60 C388.37,163.17 388.97,162.77 389.20,162.40 C389.43,162.03 389.30,161.75 389.20,161.40 C389.10,161.05 388.63,160.67 388.60,160.30 C388.57,159.93 388.63,159.53 389.00,159.20 C389.37,158.87 390.50,158.45 390.80,158.30 C391.10,158.15 390.50,158.15 390.80,158.30Z" fill="#eb98aa" stroke="#d9506e" stroke-width="0.45"/>
<line x1="387.01" y1="164.50" x2="394.59" y2="164.50" stroke="#555" stroke-width="0.7" stroke-dasharray="1.2 0.8"/>
<circle cx="390.30" cy="160.20" r="1.15" fill="#c8102e"/>
<circle cx="386.90" cy="166.00" r="1.15" fill="#c8102e"/>
<circle cx="393.80" cy="166.00" r="1.15" fill="#c8102e"/>
<path d="M415.80,140.70 C417.08,140.78 416.75,140.73 416.90,141.20 C417.05,141.67 416.93,142.62 416.70,143.50 C416.47,144.38 415.92,145.40 415.50,146.50 C415.08,147.60 414.30,149.13 414.20,150.10 C414.10,151.07 414.60,151.58 414.90,152.30 C415.20,153.02 415.53,153.62 416.00,154.40 C416.47,155.18 417.15,156.18 417.70,157.00 C418.25,157.82 419.03,158.30 419.30,159.30 C419.57,160.30 419.35,161.97 419.30,163.00 C419.25,164.03 419.47,164.97 419.00,165.50 C418.53,166.03 418.25,166.08 416.50,166.20 C414.75,166.32 410.25,166.32 408.50,166.20 C406.75,166.08 406.47,166.03 406.00,165.50 C405.53,164.97 405.75,164.03 405.70,163.00 C405.65,161.97 405.43,160.30 405.70,159.30 C405.97,158.30 406.75,157.82 407.30,157.00 C407.85,156.18 408.53,155.18 409.00,154.40 C409.47,153.62 409.80,153.02 410.10,152.30 C410.40,151.58 410.90,151.07 410.80,150.10 C410.70,149.13 409.92,147.60 409.50,146.50 C409.08,145.40 408.53,144.38 408.30,143.50 C408.07,142.62 407.95,141.67 408.10,141.20 C408.25,140.73 407.92,140.78 409.20,140.70 C410.48,140.62 414.52,140.62 415.80,140.70Z" fill="#eb98aa" stroke="#d9506e" stroke-width="0.45"/>
<line x1="406.20" y1="159.70" x2="418.80" y2="159.70" stroke="#555" stroke-width="0.7" stroke-dasharray="1.2 0.8"/>
<circle cx="412.40" cy="140.90" r="1.15" fill="#c8102e"/>
<circle cx="412.40" cy="159.70" r="1.15" fill="#c8102e"/>
<circle cx="412.40" cy="165.70" r="1.15" fill="#c8102e"/>
<path d="M439.00,148.60 C441.00,148.70 440.67,148.73 441.00,149.20 C441.33,149.67 441.30,150.90 441.00,151.40 C440.70,151.90 439.68,151.95 439.20,152.20 C438.72,152.45 438.23,152.60 438.10,152.90 C437.97,153.20 438.22,153.62 438.40,154.00 C438.58,154.38 439.27,154.88 439.20,155.20 C439.13,155.52 438.62,155.70 438.00,155.90 C437.38,156.10 436.42,156.32 435.50,156.40 C434.58,156.48 433.42,156.48 432.50,156.40 C431.58,156.32 430.62,156.10 430.00,155.90 C429.38,155.70 428.87,155.52 428.80,155.20 C428.73,154.88 429.42,154.38 429.60,154.00 C429.78,153.62 430.03,153.20 429.90,152.90 C429.77,152.60 429.28,152.45 428.80,152.20 C428.32,151.95 427.30,151.90 427.00,151.40 C426.70,150.90 426.67,149.67 427.00,149.20 C427.33,148.73 427.00,148.70 429.00,148.60 C431.00,148.50 437.00,148.50 439.00,148.60Z" fill="#eb98aa" stroke="#d9506e" stroke-width="0.45"/>
<line x1="427.50" y1="150.10" x2="440.50" y2="150.10" stroke="#555" stroke-width="0.7" stroke-dasharray="1.2 0.8"/>
<circle cx="430.20" cy="148.70" r="1.15" fill="#c8102e"/>
<circle cx="437.30" cy="151.30" r="1.15" fill="#c8102e"/>
<circle cx="434.00" cy="156.00" r="1.15" fill="#c8102e"/>
<path d="M458.90,149.90 C460.07,149.97 459.83,149.87 459.90,150.30 C459.97,150.73 459.60,151.72 459.30,152.50 C459.00,153.28 458.37,154.22 458.10,155.00 C457.83,155.78 457.63,156.45 457.70,157.20 C457.77,157.95 458.13,158.78 458.50,159.50 C458.87,160.22 459.40,160.82 459.90,161.50 C460.40,162.18 461.07,162.88 461.50,163.60 C461.93,164.32 462.27,165.10 462.50,165.80 C462.73,166.50 462.90,167.10 462.90,167.80 C462.90,168.50 462.70,169.38 462.50,170.00 C462.30,170.62 462.30,171.12 461.70,171.50 C461.10,171.88 460.37,172.17 458.90,172.30 C457.43,172.43 454.37,172.43 452.90,172.30 C451.43,172.17 450.70,171.88 450.10,171.50 C449.50,171.12 449.50,170.62 449.30,170.00 C449.10,169.38 448.90,168.50 448.90,167.80 C448.90,167.10 449.07,166.50 449.30,165.80 C449.53,165.10 449.87,164.32 450.30,163.60 C450.73,162.88 451.40,162.18 451.90,161.50 C452.40,160.82 452.93,160.22 453.30,159.50 C453.67,158.78 454.03,157.95 454.10,157.20 C454.17,156.45 453.97,155.78 453.70,155.00 C453.43,154.22 452.80,153.28 452.50,152.50 C452.20,151.72 451.83,150.73 451.90,150.30 C451.97,149.87 451.73,149.97 452.90,149.90 C454.07,149.83 457.73,149.83 458.90,149.90Z" fill="#eb98aa" stroke="#d9506e" stroke-width="0.45"/>
<line x1="449.40" y1="167.80" x2="462.40" y2="167.80" stroke="#555" stroke-width="0.7" stroke-dasharray="1.2 0.8"/>
<circle cx="455.50" cy="150.90" r="1.15" fill="#c8102e"/>
<circle cx="455.50" cy="167.80" r="1.15" fill="#c8102e"/>
<circle cx="455.50" cy="171.60" r="1.15" fill="#c8102e"/>
<path d="M479.60,155.70 C480.77,155.78 481.78,156.02 482.60,156.20 C483.42,156.38 484.42,156.53 484.50,156.80 C484.58,157.07 483.75,157.47 483.10,157.80 C482.45,158.13 481.18,158.48 480.60,158.80 C480.02,159.12 479.63,159.33 479.60,159.70 C479.57,160.07 480.10,160.55 480.40,161.00 C480.70,161.45 481.37,161.97 481.40,162.40 C481.43,162.83 481.23,163.23 480.60,163.60 C479.97,163.97 478.60,164.60 477.60,164.60 C476.60,164.60 475.23,163.97 474.60,163.60 C473.97,163.23 473.77,162.83 473.80,162.40 C473.83,161.97 474.50,161.45 474.80,161.00 C475.10,160.55 475.63,160.07 475.60,159.70 C475.57,159.33 475.18,159.12 474.60,158.80 C474.02,158.48 472.75,158.13 472.10,157.80 C471.45,157.47 470.62,157.07 470.70,156.80 C470.78,156.53 471.78,156.38 472.60,156.20 C473.42,156.02 474.43,155.78 475.60,155.70 C476.77,155.62 478.43,155.62 479.60,155.70Z" fill="#eb98aa" stroke="#d9506e" stroke-width="0.45"/>
<line x1="472.60" y1="157.80" x2="482.60" y2="157.80" stroke="#555" stroke-width="0.7" stroke-dasharray="1.2 0.8"/>
<circle cx="473.80" cy="156.00" r="1.15" fill="#c8102e"/>
<circle cx="481.50" cy="157.80" r="1.15" fill="#c8102e"/>
<circle cx="477.10" cy="163.70" r="1.15" fill="#c8102e"/>
<path d="M499.30,155.20 C499.60,155.33 500.75,155.67 501.10,156.00 C501.45,156.33 501.45,156.77 501.40,157.20 C501.35,157.63 500.85,158.17 500.80,158.60 C500.75,159.03 500.75,159.40 501.10,159.80 C501.45,160.20 502.13,160.57 502.90,161.00 C503.67,161.43 505.47,162.02 505.70,162.40 C505.93,162.78 505.37,163.05 504.30,163.30 C503.23,163.55 500.97,163.90 499.30,163.90 C497.63,163.90 495.37,163.55 494.30,163.30 C493.23,163.05 492.67,162.78 492.90,162.40 C493.13,162.02 494.93,161.43 495.70,161.00 C496.47,160.57 497.15,160.20 497.50,159.80 C497.85,159.40 497.85,159.03 497.80,158.60 C497.75,158.17 497.25,157.63 497.20,157.20 C497.15,156.77 497.15,156.33 497.50,156.00 C497.85,155.67 499.00,155.33 499.30,155.20 C499.60,155.07 499.00,155.07 499.30,155.20Z" fill="#eb98aa" stroke="#d9506e" stroke-width="0.45"/>
<line x1="493.40" y1="162.40" x2="505.20" y2="162.40" stroke="#555" stroke-width="0.7" stroke-dasharray="1.2 0.8"/>
<circle cx="498.90" cy="156.60" r="1.15" fill="#c8102e"/>
<circle cx="495.20" cy="162.80" r="1.15" fill="#c8102e"/>
<circle cx="502.50" cy="163.10" r="1.15" fill="#c8102e"/>
<rect x="39.6" y="174.0" width="209.2" height="15.0" fill="#b4b4b4"/>
<clipPath id="c253"><rect x="40.20" y="174.00" width="21.60" height="15.00"/></clipPath>
<rect x="40.20" y="174.00" width="21.60" height="15.00" fill="#0a300f"/>
<rect x="40.20" y="174.00" width="21.60" height="15.00" fill="#000" filter="url(#texG)" opacity="0.22"/>
<g clip-path="url(#c253)"><g filter="url(#bl)"></g></g>
<clipPath id="c257"><rect x="63.50" y="174.00" width="21.60" height="15.00"/></clipPath>
<rect x="63.50" y="174.00" width="21.60" height="15.00" fill="#161c16"/>
<rect x="63.50" y="174.00" width="21.60" height="15.00" fill="#000" filter="url(#texG)" opacity="0.2"/>
<g clip-path="url(#c257)"><g filter="url(#bl)"><circle cx="77.10" cy="178.40" r="1.23" fill="#44b82c"/><circle cx="67.70" cy="183.40" r="1.42" fill="#44b82c"/><circle cx="72.10" cy="182.80" r="1.14" fill="#44b82c"/><circle cx="74.80" cy="182.20" r="1.14" fill="#44b82c"/><circle cx="76.30" cy="184.00" r="0.95" fill="#2a8a1e"/><circle cx="79.20" cy="181.40" r="0.95" fill="#2a8a1e"/><circle cx="65.10" cy="181.00" r="0.95" fill="#2a8a1e"/><circle cx="66.00" cy="178.40" r="0.85" fill="#1a5a16"/><circle cx="68.90" cy="178.10" r="0.85" fill="#1a5a16"/><circle cx="73.60" cy="177.50" r="0.85" fill="#1a5a16"/><circle cx="70.00" cy="185.20" r="0.95" fill="#1a5a16"/><circle cx="82.40" cy="180.50" r="0.95" fill="#1a5a16"/><circle cx="84.80" cy="184.60" r="0.85" fill="#1a5a16"/></g></g>
<clipPath id="c261"><rect x="86.80" y="174.00" width="21.60" height="15.00"/></clipPath>
<rect x="86.80" y="174.00" width="21.60" height="15.00" fill="#070f07"/>
<rect x="86.80" y="174.00" width="21.60" height="15.00" fill="#000" filter="url(#texG)" opacity="0.15"/>
<g clip-path="url(#c261)"><g filter="url(#bl)"><circle cx="88.80" cy="175.40" r="1.04" fill="#2a8a1e"/><circle cx="94.80" cy="183.70" r="1.04" fill="#2a8a1e"/><circle cx="107.20" cy="186.00" r="0.95" fill="#2a8a1e"/><circle cx="99.40" cy="176.80" r="0.85" fill="#1a5a16"/><circle cx="103.50" cy="176.80" r="0.85" fill="#1a5a16"/><circle cx="97.00" cy="185.00" r="0.85" fill="#1a5a16"/><circle cx="92.00" cy="180.50" r="0.85" fill="#1a5a16"/></g></g>
<clipPath id="c265"><rect x="110.10" y="174.00" width="21.60" height="15.00"/></clipPath>
<rect x="110.10" y="174.00" width="21.60" height="15.00" fill="#0b3212"/>
<rect x="110.10" y="174.00" width="21.60" height="15.00" fill="#000" filter="url(#texG)" opacity="0.25"/>
<g clip-path="url(#c265)"><g filter="url(#bl)"><circle cx="119.20" cy="185.00" r="0.85" fill="#1a5a16"/></g></g>
<clipPath id="c269"><rect x="133.40" y="174.00" width="21.60" height="15.00"/></clipPath>
<rect x="133.40" y="174.00" width="21.60" height="15.00" fill="#081408"/>
<rect x="133.40" y="174.00" width="21.60" height="15.00" fill="#000" filter="url(#texG)" opacity="0.25"/>
<g clip-path="url(#c269)"><g filter="url(#bl)"><circle cx="138.50" cy="186.00" r="0.95" fill="#1a5a16"/><circle cx="141.30" cy="176.80" r="0.85" fill="#1a5a16"/><circle cx="147.80" cy="183.20" r="0.95" fill="#1a5a16"/><circle cx="134.80" cy="179.50" r="0.85" fill="#1a5a16"/><circle cx="152.00" cy="178.00" r="0.76" fill="#1a5a16"/></g></g>
<clipPath id="c273"><rect x="156.70" y="174.00" width="21.60" height="15.00"/></clipPath>
<rect x="156.70" y="174.00" width="21.60" height="15.00" fill="#081508"/>
<rect x="156.70" y="174.00" width="21.60" height="15.00" fill="#000" filter="url(#texG)" opacity="0.2"/>
<g clip-path="url(#c273)"><g filter="url(#bl)"><circle cx="175.90" cy="180.50" r="1.23" fill="#44b82c"/><circle cx="172.70" cy="179.10" r="0.95" fill="#2a8a1e"/><circle cx="163.50" cy="176.30" r="0.76" fill="#1a5a16"/><circle cx="170.80" cy="176.30" r="0.76" fill="#1a5a16"/><circle cx="166.20" cy="184.60" r="0.85" fill="#1a5a16"/><circle cx="169.00" cy="185.10" r="0.85" fill="#1a5a16"/><circle cx="175.00" cy="185.50" r="0.85" fill="#2a8a1e"/></g></g>
<clipPath id="c277"><rect x="180.00" y="174.00" width="21.60" height="15.00"/></clipPath>
<rect x="180.00" y="174.00" width="21.60" height="15.00" fill="#0a130a"/>
<rect x="180.00" y="174.00" width="21.60" height="15.00" fill="#000" filter="url(#texG)" opacity="0.25"/>
<g clip-path="url(#c277)"><g filter="url(#bl)"><circle cx="188.70" cy="184.20" r="1.42" fill="#44b82c"/><circle cx="181.80" cy="176.80" r="0.95" fill="#2a8a1e"/><circle cx="186.40" cy="180.50" r="0.95" fill="#2a8a1e"/><circle cx="196.50" cy="174.90" r="0.95" fill="#2a8a1e"/><circle cx="191.90" cy="182.30" r="0.85" fill="#1a5a16"/><circle cx="196.10" cy="187.90" r="0.95" fill="#2a8a1e"/><circle cx="181.80" cy="186.00" r="0.85" fill="#1a5a16"/><circle cx="198.40" cy="184.20" r="0.85" fill="#1a5a16"/><circle cx="183.60" cy="183.20" r="0.85" fill="#1a5a16"/></g></g>
<clipPath id="c281"><rect x="203.30" y="174.00" width="21.60" height="15.00"/></clipPath>
<rect x="203.30" y="174.00" width="21.60" height="15.00" fill="#092a10"/>
<rect x="203.30" y="174.00" width="21.60" height="15.00" fill="#000" filter="url(#texG)" opacity="0.2"/>
<g clip-path="url(#c281)"><g filter="url(#bl)"><circle cx="221.50" cy="183.20" r="0.95" fill="#2a8a1e"/></g></g>
<clipPath id="c285"><rect x="226.60" y="174.00" width="21.60" height="15.00"/></clipPath>
<rect x="226.60" y="174.00" width="21.60" height="15.00" fill="#070f07"/>
<rect x="226.60" y="174.00" width="21.60" height="15.00" fill="#000" filter="url(#texG)" opacity="0.3"/>
<g clip-path="url(#c285)"><g filter="url(#bl)"><circle cx="231.00" cy="183.00" r="0.76" fill="#1a5a16"/><circle cx="235.00" cy="177.00" r="0.76" fill="#1a5a16"/><circle cx="240.00" cy="186.00" r="0.66" fill="#1a5a16"/><circle cx="244.00" cy="179.00" r="0.66" fill="#1a5a16"/></g></g>
<rect x="292.8" y="175.8" width="216.6" height="14.2" fill="#b4b4b4"/>
<clipPath id="c290"><rect x="293.30" y="175.80" width="20.60" height="14.20"/></clipPath>
<rect x="293.30" y="175.80" width="20.60" height="14.20" fill="#050d05"/>
<rect x="293.30" y="175.80" width="20.60" height="14.20" fill="#000" filter="url(#texG)" opacity="0.12"/>
<g clip-path="url(#c290)"><g filter="url(#bl)"><circle cx="295.10" cy="183.80" r="0.95" fill="#1a5a16"/><circle cx="297.80" cy="188.70" r="0.95" fill="#2a8a1e"/><circle cx="306.20" cy="189.20" r="0.85" fill="#1a5a16"/><circle cx="305.30" cy="179.40" r="0.85" fill="#1a5a16"/><circle cx="296.00" cy="177.70" r="0.76" fill="#1a5a16"/><circle cx="302.20" cy="187.40" r="0.85" fill="#1a5a16"/><circle cx="309.70" cy="187.40" r="0.85" fill="#1a5a16"/></g></g>
<clipPath id="c294"><rect x="315.00" y="175.80" width="20.60" height="14.20"/></clipPath>
<rect x="315.00" y="175.80" width="20.60" height="14.20" fill="#161c14"/>
<rect x="315.00" y="175.80" width="20.60" height="14.20" fill="#000" filter="url(#texG)" opacity="0.2"/>
<g clip-path="url(#c294)"><g filter="url(#bl)"><circle cx="327.80" cy="179.90" r="1.23" fill="#44b82c"/><circle cx="318.50" cy="183.80" r="1.23" fill="#44b82c"/><circle cx="323.00" cy="183.40" r="1.14" fill="#44b82c"/><circle cx="325.60" cy="183.40" r="1.14" fill="#44b82c"/><circle cx="327.00" cy="185.60" r="0.95" fill="#2a8a1e"/><circle cx="330.00" cy="183.00" r="0.85" fill="#1a5a16"/><circle cx="315.90" cy="182.50" r="0.85" fill="#1a5a16"/><circle cx="320.30" cy="186.50" r="0.95" fill="#2a8a1e"/><circle cx="318.50" cy="178.50" r="0.85" fill="#1a5a16"/><circle cx="334.50" cy="185.60" r="0.85" fill="#1a5a16"/></g></g>
<clipPath id="c298"><rect x="336.70" y="175.80" width="20.60" height="14.20"/></clipPath>
<rect x="336.70" y="175.80" width="20.60" height="14.20" fill="#071407"/>
<rect x="336.70" y="175.80" width="20.60" height="14.20" fill="#000" filter="url(#texG)" opacity="0.2"/>
<g clip-path="url(#c298)"><g filter="url(#bl)"><circle cx="351.90" cy="185.40" r="1.14" fill="#44b82c"/><circle cx="339.40" cy="183.60" r="0.95" fill="#2a8a1e"/><circle cx="346.60" cy="183.80" r="0.85" fill="#1a5a16"/><circle cx="349.70" cy="181.60" r="0.85" fill="#1a5a16"/><circle cx="355.50" cy="183.80" r="0.85" fill="#1a5a16"/></g></g>
<clipPath id="c302"><rect x="358.40" y="175.80" width="20.60" height="14.20"/></clipPath>
<rect x="358.40" y="175.80" width="20.60" height="14.20" fill="#10260c"/>
<rect x="358.40" y="175.80" width="20.60" height="14.20" fill="#000" filter="url(#texG)" opacity="0.28"/>
<g clip-path="url(#c302)"><g filter="url(#bl)"><circle cx="365.20" cy="180.30" r="0.85" fill="#3a6a12"/><circle cx="369.20" cy="180.80" r="0.85" fill="#3a6a12"/></g></g>
<clipPath id="c306"><rect x="380.10" y="175.80" width="20.60" height="14.20"/></clipPath>
<rect x="380.10" y="175.80" width="20.60" height="14.20" fill="#082810"/>
<rect x="380.10" y="175.80" width="20.60" height="14.20" fill="#000" filter="url(#texG)" opacity="0.25"/>
<g clip-path="url(#c306)"><g filter="url(#bl)"></g></g>
<clipPath id="c310"><rect x="401.80" y="175.80" width="20.60" height="14.20"/></clipPath>
<rect x="401.80" y="175.80" width="20.60" height="14.20" fill="#101e06"/>
<rect x="401.80" y="175.80" width="20.60" height="14.20" fill="#000" filter="url(#texY)" opacity="0.3"/>
<g clip-path="url(#c310)"><g filter="url(#bl)"><circle cx="408.80" cy="181.60" r="0.95" fill="#5a9a1a"/><circle cx="415.00" cy="181.90" r="0.95" fill="#5a9a1a"/><circle cx="404.50" cy="178.50" r="0.76" fill="#3a6a12"/><circle cx="405.70" cy="186.50" r="0.76" fill="#3a6a12"/></g></g>
<clipPath id="c314"><rect x="423.50" y="175.80" width="20.60" height="14.20"/></clipPath>
<rect x="423.50" y="175.80" width="20.60" height="14.20" fill="#09300f"/>
<rect x="423.50" y="175.80" width="20.60" height="14.20" fill="#000" filter="url(#texG)" opacity="0.25"/>
<g clip-path="url(#c314)"><g filter="url(#bl)"><circle cx="435.50" cy="181.60" r="0.95" fill="#2a8a1e"/><circle cx="432.40" cy="185.60" r="1.04" fill="#2a8a1e"/><circle cx="440.40" cy="185.60" r="0.95" fill="#2a8a1e"/><circle cx="435.50" cy="188.10" r="0.85" fill="#1a5a16"/></g></g>
<clipPath id="c318"><rect x="445.20" y="175.80" width="20.60" height="14.20"/></clipPath>
<rect x="445.20" y="175.80" width="20.60" height="14.20" fill="#0c1606"/>
<rect x="445.20" y="175.80" width="20.60" height="14.20" fill="#000" filter="url(#texY)" opacity="0.3"/>
<g clip-path="url(#c318)"><g filter="url(#bl)"><circle cx="462.00" cy="182.00" r="0.85" fill="#3a6a12"/><circle cx="450.00" cy="183.50" r="0.76" fill="#3a6a12"/></g></g>
<clipPath id="c322"><rect x="466.90" y="175.80" width="20.60" height="14.20"/></clipPath>
<rect x="466.90" y="175.80" width="20.60" height="14.20" fill="#092c10"/>
<rect x="466.90" y="175.80" width="20.60" height="14.20" fill="#000" filter="url(#texG)" opacity="0.22"/>
<g clip-path="url(#c322)"><g filter="url(#bl)"><circle cx="474.80" cy="188.30" r="0.85" fill="#1a5a16"/></g></g>
<clipPath id="c326"><rect x="488.60" y="175.80" width="20.60" height="14.20"/></clipPath>
<rect x="488.60" y="175.80" width="20.60" height="14.20" fill="#0a1606"/>
<rect x="488.60" y="175.80" width="20.60" height="14.20" fill="#000" filter="url(#texY)" opacity="0.3"/>
<g clip-path="url(#c326)"><g filter="url(#bl)"></g></g>
<g transform="translate(51.90,194.80) rotate(-45)"><text x="0" y="0.00" font-size="8.0" text-anchor="end" fill="#222" stroke="#222" stroke-width="0.12" textLength="9.42" lengthAdjust="spacingAndGlyphs">HC</text></g>
<g transform="translate(75.20,194.80) rotate(-45)"><text x="0" y="0.00" font-size="8.0" text-anchor="end" fill="#222" stroke="#222" stroke-width="0.12" textLength="28.63" lengthAdjust="spacingAndGlyphs">Untreated</text></g>
<g transform="translate(98.50,194.80) rotate(-45)"><text x="0" y="0.00" font-size="8.0" text-anchor="end" fill="#222" stroke="#222" stroke-width="0.12" textLength="22.83" lengthAdjust="spacingAndGlyphs">Heparin</text><text x="0" y="8.20" font-size="8.0" text-anchor="end" fill="#222" stroke="#222" stroke-width="0.12" textLength="12.68" lengthAdjust="spacingAndGlyphs">(LD)</text></g>
<g transform="translate(121.80,194.80) rotate(-45)"><text x="0" y="0.00" font-size="8.0" text-anchor="end" fill="#222" stroke="#222" stroke-width="0.12" textLength="22.83" lengthAdjust="spacingAndGlyphs">Heparin</text><text x="0" y="8.20" font-size="8.0" text-anchor="end" fill="#222" stroke="#222" stroke-width="0.12" textLength="13.03" lengthAdjust="spacingAndGlyphs">(TD)</text></g>
<g transform="translate(145.10,194.80) rotate(-45)"><text x="0" y="0.00" font-size="8.0" text-anchor="end" fill="#222" stroke="#222" stroke-width="0.12" textLength="33.71" lengthAdjust="spacingAndGlyphs">Danaparoid</text><text x="0" y="8.20" font-size="8.0" text-anchor="end" fill="#222" stroke="#222" stroke-width="0.12" textLength="13.03" lengthAdjust="spacingAndGlyphs">(TD)</text></g>
<g transform="translate(168.40,194.80) rotate(-45)"><text x="0" y="0.00" font-size="8.0" text-anchor="end" fill="#222" stroke="#222" stroke-width="0.12" textLength="39.87" lengthAdjust="spacingAndGlyphs">Fondaparinux</text><text x="0" y="8.20" font-size="8.0" text-anchor="end" fill="#222" stroke="#222" stroke-width="0.12" textLength="13.03" lengthAdjust="spacingAndGlyphs">(TD)</text></g>
<g transform="translate(191.70,194.80) rotate(-45)"><text x="0" y="0.00" font-size="8.0" text-anchor="end" fill="#222" stroke="#222" stroke-width="0.12" textLength="39.87" lengthAdjust="spacingAndGlyphs">Fondaparinux</text><text x="0" y="8.20" font-size="8.0" text-anchor="end" fill="#222" stroke="#222" stroke-width="0.12" textLength="13.76" lengthAdjust="spacingAndGlyphs">(HD)</text></g>
<g transform="translate(215.00,194.80) rotate(-45)"><text x="0" y="0.00" font-size="8.0" text-anchor="end" fill="#222" stroke="#222" stroke-width="0.12" textLength="32.26" lengthAdjust="spacingAndGlyphs">Argatroban</text><text x="0" y="8.20" font-size="8.0" text-anchor="end" fill="#222" stroke="#222" stroke-width="0.12" textLength="13.03" lengthAdjust="spacingAndGlyphs">(TD)</text></g>
<g transform="translate(238.30,194.80) rotate(-45)"><text x="0" y="0.00" font-size="8.0" text-anchor="end" fill="#222" stroke="#222" stroke-width="0.12" textLength="32.26" lengthAdjust="spacingAndGlyphs">Argatroban</text><text x="0" y="8.20" font-size="8.0" text-anchor="end" fill="#222" stroke="#222" stroke-width="0.12" textLength="13.76" lengthAdjust="spacingAndGlyphs">(HD)</text></g>
<g transform="translate(304.50,195.60) rotate(-45)"><text x="0" y="0.00" font-size="7.75" text-anchor="end" fill="#222" stroke="#222" stroke-width="0.12" textLength="9.12" lengthAdjust="spacingAndGlyphs">HC</text></g>
<g transform="translate(326.20,195.60) rotate(-45)"><text x="0" y="0.00" font-size="7.75" text-anchor="end" fill="#222" stroke="#222" stroke-width="0.12" textLength="27.74" lengthAdjust="spacingAndGlyphs">Untreated</text></g>
<g transform="translate(347.90,195.60) rotate(-45)"><text x="0" y="0.00" font-size="7.75" text-anchor="end" fill="#222" stroke="#222" stroke-width="0.12" textLength="12.64" lengthAdjust="spacingAndGlyphs">IVIG</text></g>
<g transform="translate(369.60,195.60) rotate(-45)"><text x="0" y="0.00" font-size="7.75" text-anchor="end" fill="#222" stroke="#222" stroke-width="0.12" textLength="22.12" lengthAdjust="spacingAndGlyphs">Heparin</text><text x="0" y="8.00" font-size="7.75" text-anchor="end" fill="#222" stroke="#222" stroke-width="0.12" textLength="12.28" lengthAdjust="spacingAndGlyphs">(LD)</text></g>
<g transform="translate(391.30,195.60) rotate(-45)"><text x="0" y="0.00" font-size="7.75" text-anchor="end" fill="#222" stroke="#222" stroke-width="0.12" textLength="22.12" lengthAdjust="spacingAndGlyphs">Heparin</text><text x="0" y="8.00" font-size="7.75" text-anchor="end" fill="#222" stroke="#222" stroke-width="0.12" textLength="12.63" lengthAdjust="spacingAndGlyphs">(TD)</text></g>
<g transform="translate(413.00,195.60) rotate(-45)"><text x="0" y="0.00" font-size="7.75" text-anchor="end" fill="#222" stroke="#222" stroke-width="0.12" textLength="32.66" lengthAdjust="spacingAndGlyphs">Danaparoid</text><text x="0" y="8.00" font-size="7.75" text-anchor="end" fill="#222" stroke="#222" stroke-width="0.12" textLength="12.63" lengthAdjust="spacingAndGlyphs">(TD)</text></g>
<g transform="translate(434.70,195.60) rotate(-45)"><text x="0" y="0.00" font-size="7.75" text-anchor="end" fill="#222" stroke="#222" stroke-width="0.12" textLength="38.62" lengthAdjust="spacingAndGlyphs">Fondaparinux</text><text x="0" y="8.00" font-size="7.75" text-anchor="end" fill="#222" stroke="#222" stroke-width="0.12" textLength="12.63" lengthAdjust="spacingAndGlyphs">(TD)</text></g>
<g transform="translate(456.40,195.60) rotate(-45)"><text x="0" y="0.00" font-size="7.75" text-anchor="end" fill="#222" stroke="#222" stroke-width="0.12" textLength="38.62" lengthAdjust="spacingAndGlyphs">Fondaparinux</text><text x="0" y="8.00" font-size="7.75" text-anchor="end" fill="#222" stroke="#222" stroke-width="0.12" textLength="13.33" lengthAdjust="spacingAndGlyphs">(HD)</text></g>
<g transform="translate(478.10,195.60) rotate(-45)"><text x="0" y="0.00" font-size="7.75" text-anchor="end" fill="#222" stroke="#222" stroke-width="0.12" textLength="31.25" lengthAdjust="spacingAndGlyphs">Argatroban</text><text x="0" y="8.00" font-size="7.75" text-anchor="end" fill="#222" stroke="#222" stroke-width="0.12" textLength="12.63" lengthAdjust="spacingAndGlyphs">(TD)</text></g>
<g transform="translate(499.80,195.60) rotate(-45)"><text x="0" y="0.00" font-size="7.75" text-anchor="end" fill="#222" stroke="#222" stroke-width="0.12" textLength="31.25" lengthAdjust="spacingAndGlyphs">Argatroban</text><text x="0" y="8.00" font-size="7.75" text-anchor="end" fill="#222" stroke="#222" stroke-width="0.12" textLength="13.33" lengthAdjust="spacingAndGlyphs">(HD)</text></g>
<line x1="51.20" y1="170.70" x2="51.20" y2="174.00" stroke="#1a1a1a" stroke-width="1.0" />
<line x1="74.50" y1="170.70" x2="74.50" y2="174.00" stroke="#1a1a1a" stroke-width="1.0" />
<line x1="97.80" y1="170.70" x2="97.80" y2="174.00" stroke="#1a1a1a" stroke-width="1.0" />
<line x1="121.10" y1="170.70" x2="121.10" y2="174.00" stroke="#1a1a1a" stroke-width="1.0" />
<line x1="144.40" y1="170.70" x2="144.40" y2="174.00" stroke="#1a1a1a" stroke-width="1.0" />
<line x1="167.70" y1="170.70" x2="167.70" y2="174.00" stroke="#1a1a1a" stroke-width="1.0" />
<line x1="191.00" y1="170.70" x2="191.00" y2="174.00" stroke="#1a1a1a" stroke-width="1.0" />
<line x1="214.30" y1="170.70" x2="214.30" y2="174.00" stroke="#1a1a1a" stroke-width="1.0" />
<line x1="237.60" y1="170.70" x2="237.60" y2="174.00" stroke="#1a1a1a" stroke-width="1.0" />
<line x1="304.00" y1="172.50" x2="304.00" y2="175.80" stroke="#1a1a1a" stroke-width="1.0" />
<line x1="325.70" y1="172.50" x2="325.70" y2="175.80" stroke="#1a1a1a" stroke-width="1.0" />
<line x1="347.40" y1="172.50" x2="347.40" y2="175.80" stroke="#1a1a1a" stroke-width="1.0" />
<line x1="369.10" y1="172.50" x2="369.10" y2="175.80" stroke="#1a1a1a" stroke-width="1.0" />
<line x1="390.80" y1="172.50" x2="390.80" y2="175.80" stroke="#1a1a1a" stroke-width="1.0" />
<line x1="412.50" y1="172.50" x2="412.50" y2="175.80" stroke="#1a1a1a" stroke-width="1.0" />
<line x1="434.20" y1="172.50" x2="434.20" y2="175.80" stroke="#1a1a1a" stroke-width="1.0" />
<line x1="455.90" y1="172.50" x2="455.90" y2="175.80" stroke="#1a1a1a" stroke-width="1.0" />
<line x1="477.60" y1="172.50" x2="477.60" y2="175.80" stroke="#1a1a1a" stroke-width="1.0" />
<line x1="499.30" y1="172.50" x2="499.30" y2="175.80" stroke="#1a1a1a" stroke-width="1.0" />
<line x1="63.10" y1="225.00" x2="249.10" y2="225.00" stroke="#6a6a6a" stroke-width="1.6" />
<text x="156.00" y="235.00" font-size="9.6" text-anchor="middle" fill="#1a1a1a" font-weight="normal" textLength="26.40" lengthAdjust="spacingAndGlyphs" stroke="#1a1a1a" stroke-width="0.3" >VITT IgG</text>
<line x1="339.20" y1="224.70" x2="509.70" y2="224.70" stroke="#6a6a6a" stroke-width="1.6" />
<text x="424.60" y="234.80" font-size="9.6" text-anchor="middle" fill="#1a1a1a" font-weight="normal" textLength="19.60" lengthAdjust="spacingAndGlyphs" stroke="#1a1a1a" stroke-width="0.3" >+IVIG</text>
<line x1="316.80" y1="237.80" x2="509.70" y2="237.80" stroke="#6a6a6a" stroke-width="1.6" />
<text x="413.30" y="248.30" font-size="9.6" text-anchor="middle" fill="#1a1a1a" font-weight="normal" textLength="26.20" lengthAdjust="spacingAndGlyphs" stroke="#1a1a1a" stroke-width="0.3" >VITT IgG</text><rect x="0.5" y="0.5" width="519" height="254" fill="none" stroke="#000" stroke-width="1.1"/></svg></body></html>
